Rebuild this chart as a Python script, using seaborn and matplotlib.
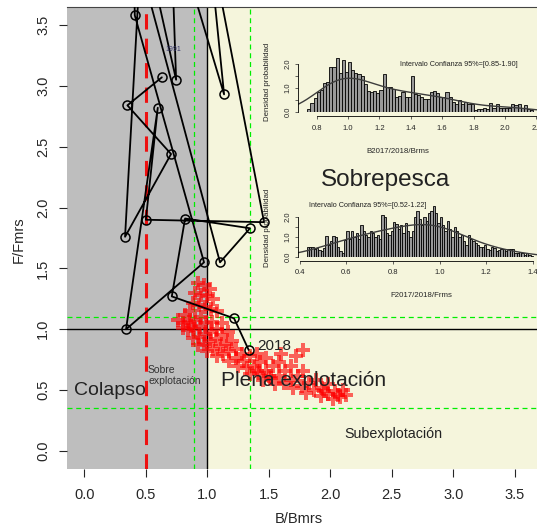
import numpy as np
import pandas as pd
import seaborn as sns
import matplotlib.pyplot as plt

# trajectory B/Bmrs, F/Fmrs (1991 ... 2018), some years above the plot top
traj_b = [0.63, 0.35, 0.705, 0.331, 0.47, 0.746, 0.70, 1.136, 1.00, 1.461, 0.50,
          0.597, 0.339, 0.973, 0.41, 0.40, 1.103, 1.347, 0.819, 0.711, 1.217, 1.336]
traj_f = [3.07, 2.84, 2.44, 1.76, 4.30, 3.05, 4.40, 2.93, 4.30, 1.88, 1.90,
          2.82, 1.00, 1.55, 3.58, 4.20, 1.55, 1.83, 1.91, 1.27, 1.09, 0.83]

# bootstrap cloud (red)
cloud_b = [0.92, 0.97, 1.02, 0.90, 0.95, 1.00, 1.05, 0.88, 0.93, 0.98, 1.03, 1.08,
           0.76, 0.82, 0.86, 0.80, 0.85, 0.90, 0.95, 0.84, 0.89, 0.94, 0.99, 1.04,
           0.88, 0.93, 0.98, 1.03, 1.08, 1.12, 0.92, 0.97, 1.02, 1.07, 1.12, 1.17,
           1.00, 1.05, 1.10, 1.15, 1.20, 1.08, 1.13, 1.18, 1.23, 1.28, 1.18, 1.23,
           1.30, 1.35, 1.40, 1.25, 1.32, 1.38, 1.43, 1.48, 1.35, 1.42, 1.48, 1.53,
           1.58, 1.45, 1.52, 1.58, 1.63, 1.68, 1.72, 1.55, 1.62, 1.68, 1.74, 1.78,
           1.70, 1.77, 1.83, 1.88, 1.80, 1.87, 1.93, 1.98, 1.92, 1.98, 2.04, 2.10,
           2.02, 2.08, 2.13, 1.78, 1.60, 0.80, 0.87, 1.40, 1.50, 1.95, 2.06]
cloud_f = [1.38, 1.36, 1.33, 1.30, 1.28, 1.27, 1.25, 1.22, 1.20, 1.18, 1.17, 1.15,
           1.08, 1.12, 1.15, 1.05, 1.06, 1.08, 1.10, 0.99, 1.00, 1.02, 1.05, 1.06,
           0.93, 0.94, 0.96, 0.98, 1.00, 1.05, 0.87, 0.88, 0.90, 0.92, 0.95, 0.98,
           0.82, 0.84, 0.86, 0.88, 0.90, 0.78, 0.80, 0.82, 0.84, 0.80, 0.74, 0.76,
           0.74, 0.78, 0.80, 0.70, 0.68, 0.70, 0.73, 0.76, 0.63, 0.64, 0.66, 0.70,
           0.73, 0.58, 0.60, 0.62, 0.66, 0.70, 0.78, 0.55, 0.56, 0.58, 0.62, 0.66,
           0.52, 0.53, 0.56, 0.58, 0.48, 0.50, 0.52, 0.55, 0.45, 0.47, 0.49, 0.50,
           0.43, 0.44, 0.46, 0.83, 0.80, 1.01, 1.03, 0.66, 0.62, 0.49, 0.46]

# histogram B2017/2018/Brms, bins of 0.02 from 0.74
hist_b_start = 0.74
hist_b = [0.14, 0.37, 0.60, 0.83, 0.93, 1.22, 1.25, 1.87, 1.87, 2.26, 1.62, 2.15,
          1.67, 2.10, 1.74, 1.62, 1.57, 1.49, 1.18, 0.87, 0.83, 0.87, 0.79, 0.93,
          1.57, 1.04, 1.04, 0.97, 0.63, 0.65, 0.83, 0.63, 0.63, 1.49, 0.76, 0.69,
          0.63, 0.56, 0.56, 0.83, 0.87, 0.79, 0.63, 0.63, 0.83, 0.63, 0.42, 0.35,
          0.49, 0.35, 0.42, 0.35, 0.35, 0.10, 0.14, 0.14, 0.18, 0.14, 0.37, 0.18,
          0.35, 0.18, 0.18, 0.18, 0.18, 0.32, 0.28, 0.32, 0.18, 0.28, 0.14, 0.07]

# histogram F2017/2018/Frms, bins of 0.01 from 0.43
hist_f_start = 0.43
hist_f = [0.50, 0.50, 0.50, 0.40, 0.45, 0.35, 0.30, 0.45, 1.07, 0.60, 0.78, 1.07,
          1.00, 0.50, 0.32, 0.20, 0.83, 1.28, 0.90, 1.28, 1.00, 1.20, 0.90, 1.60,
          1.30, 1.10, 1.00, 1.30, 1.20, 1.00, 1.10, 0.90, 2.10, 2.00, 1.20, 1.10,
          1.30, 1.75, 1.65, 1.40, 1.60, 1.20, 1.70, 1.30, 1.00, 1.30, 2.00, 2.30,
          1.90, 1.60, 2.00, 1.80, 2.20, 2.30, 2.55, 2.20, 1.70, 2.00, 1.60, 1.30,
          1.80, 1.40, 1.00, 1.50, 1.30, 1.00, 1.10, 0.80, 0.60, 1.10, 0.90, 0.80,
          0.70, 0.60, 0.50, 0.50, 0.60, 0.40, 0.35, 0.50, 0.45, 0.30, 0.35, 0.40,
          0.40, 0.30, 0.40, 0.40, 0.40, 0.20, 0.20, 0.25, 0.20, 0.10, 0.20, 0.10,
          0.05]

sns.set_style("white")
plt.rcParams['font.family'] = ['Liberation Sans', 'DejaVu Sans']

W, H = 537, 527
fig = plt.figure(figsize=(W / 100, H / 100), dpi=100)

def px_axes(x0, y0, x1, y1):
    # axes box from pixel coords (top-left origin)
    return fig.add_axes([x0 / W, 1 - y1 / H, (x1 - x0) / W, (y1 - y0) / H])

# ---- main Kobe plot
XMIN, XMAX, YMIN, YMAX = -0.141, 3.68, -0.148, 3.648
ax = px_axes(67, 7, 537, 469)
ax.set_xlim(XMIN, XMAX)
ax.set_ylim(YMIN, YMAX)
ax.axvspan(XMIN, 1, color="#BEBEBE", lw=0, zorder=0)
ax.axvspan(1, XMAX, color="#F5F5DC", lw=0, zorder=0)
ax.axvline(1, color="black", lw=1, zorder=1)
ax.axhline(1, color="black", lw=1, zorder=1)
for xv in [0.895, 1.345]:
    ax.axvline(xv, color="#00EE00", lw=0.9, ls=(0, (4, 3)), zorder=1)
for yv in [1.10, 0.356]:
    ax.axhline(yv, color="#00EE00", lw=0.9, ls=(0, (4, 3)), zorder=1)
ax.axvline(0.5, color="#EE1111", lw=2.2, ls=(0, (5, 3)), zorder=1)

sns.scatterplot(x=cloud_b, y=cloud_f, marker="P", s=95, color="red", alpha=0.6,
                linewidth=0, ax=ax, zorder=2, legend=False)

df = pd.DataFrame({"b": traj_b, "f": traj_f})
sns.lineplot(data=df, x="b", y="f", sort=False, estimator=None, color="black", lw=1.3,
             marker="o", markersize=6.5, markerfacecolor="none", markeredgecolor="black",
             markeredgewidth=1.1, ax=ax, zorder=3)

ax.annotate("1991", (traj_b[0], traj_f[0]), xytext=(8, 20), textcoords="offset points",
            fontsize=5, color="#3A3A6A", ha="center", va="center", zorder=4)
ax.annotate("2018", (traj_b[-1], traj_f[-1]), xytext=(6, 3), textcoords="offset points",
            fontsize=11, color="#222222", ha="left", va="center", zorder=4)

ax.text(0.21, 0.495, "Colapso", fontsize=14, ha="center", va="center", color="#222222", zorder=4)
ax.text(0.518, 0.62, "Sobre\nexplotación", fontsize=7.5, ha="left", va="center",
        color="#333333", linespacing=1.1, zorder=4)
ax.text(1.78, 0.58, "Plena explotación", fontsize=15, ha="center", va="center",
        color="#222222", zorder=4)
ax.text(2.51, 0.14, "Subexplotación", fontsize=10.3, ha="center", va="center",
        color="#222222", zorder=4)
ax.text(2.45, 2.23, "Sobrepesca", fontsize=17.5, ha="center", va="center",
        color="#222222", zorder=4)

ticks = np.arange(0, 3.51, 0.5)
ax.set_xticks(ticks)
ax.set_xticklabels([f"{t:.1f}" for t in ticks])
ax.set_yticks(ticks)
ax.set_yticklabels([f"{t:.1f}" for t in ticks], rotation=90, va="center")
ax.tick_params(axis="x", length=6, width=0.8, pad=8, labelsize=10.5, bottom=True)
ax.tick_params(axis="y", length=6, width=0.8, pad=6, labelsize=10.5, left=True)
for s in ["left", "bottom", "right"]:
    ax.spines[s].set_visible(False)
ax.spines["top"].set_color("#444444")
ax.spines["top"].set_linewidth(0.8)
ax.set_xlabel("B/Bmrs", fontsize=10.5)
ax.set_ylabel("F/Fmrs", fontsize=10.5)
ax.xaxis.set_label_coords(0.493, -0.092)
ax.yaxis.set_label_coords(-0.088, 0.496)


def inset(box, start, width, heights, xlim, ylim, xticks, xlab, xlab_x, ci_text, ci_xy, bw):
    a = px_axes(*box)
    a.patch.set_alpha(0)
    n = len(heights)
    hd = pd.DataFrame({"x": start + width * (np.arange(n) + 0.5), "h": heights})
    sns.histplot(data=hd, x="x", weights="h", binwidth=width,
                 binrange=(start, start + width * n), stat="count", kde=True,
                 color="#3C3C3C", facecolor="#999999", edgecolor="black", linewidth=0.6,
                 alpha=1, kde_kws={"bw_adjust": bw, "cut": 3}, line_kws={"lw": 1.0},
                 ax=a)
    a.set_xlim(*xlim)
    a.set_ylim(*ylim)
    a.set_xticks(xticks)
    a.set_xticklabels([f"{t:.1f}" for t in xticks])
    a.set_yticks([0, 0.5, 1, 1.5, 2])
    a.set_yticklabels(["0.0", "", "1.0", "", "2.0"], rotation=90, va="center")
    a.tick_params(labelsize=5.5, length=2.5, width=0.5, pad=2, left=True, bottom=True)
    a.tick_params(axis="x", pad=3.5)
    for s in ["top", "right"]:
        a.spines[s].set_visible(False)
    a.spines["left"].set_bounds(0, 2)
    a.spines["bottom"].set_bounds(xticks[0], xticks[-1])
    a.spines["bottom"].set_position(("outward", 3))
    for s in ["left", "bottom"]:
        a.spines[s].set_linewidth(0.6)
        a.spines[s].set_color("black")
    a.set_ylabel("Densidad probabilidad", fontsize=5.7, labelpad=10)
    a.set_xlabel(xlab, fontsize=5.7)
    a.xaxis.set_label_coords(xlab_x, -0.6)
    a.text(ci_xy[0], ci_xy[1], ci_text, fontsize=5.2, ha="center", va="center", color="#222222")
    return a


inset((298, 52, 560, 112), hist_b_start, 0.02, hist_b, (0.681, 2.35), (0, 2.5),
      np.arange(0.8, 2.21, 0.2), "B2017/2018/Brms", 0.382,
      "Intervalo Confianza 95%=[0.85-1.90]", (1.704, 2.0), 0.9)
inset((298, 198, 560, 257), hist_f_start, 0.01, hist_f, (0.393, 1.516), (0, 2.95),
      np.arange(0.4, 1.41, 0.2), "F2017/2018/Frms", 0.469,
      "Intervalo Confianza 95%=[0.52-1.22]", (0.69, 2.56), 1.2)

fig.savefig("out.png", dpi=100)
